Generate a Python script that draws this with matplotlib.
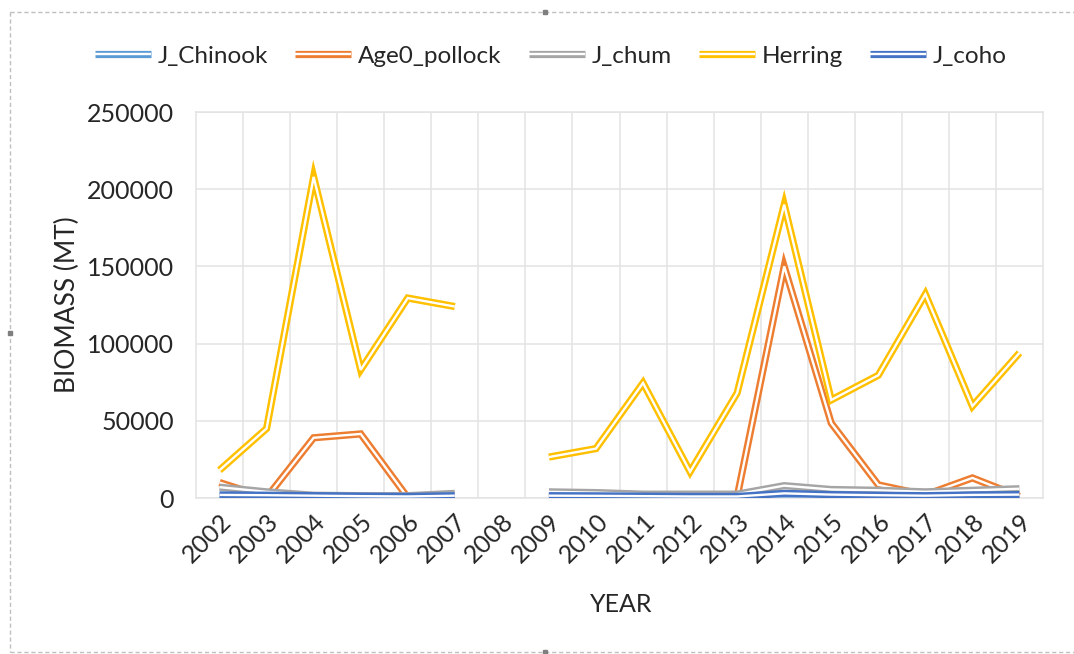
"""Juvenile salmon, age-0 pollock and herring biomass by survey year."""

import matplotlib.pyplot as plt
import numpy as np
from matplotlib.lines import Line2D

plt.rcParams["font.family"] = ["Lato", "DejaVu Sans"]

nan = np.nan
years = [str(y) for y in range(2002, 2020)]

# biomass (MT) per year; no survey in 2008
j_chinook = [1000, 800, 600, 500, 500, 600, nan, 700, 600, 500, 400, 400,
             1200, 900, 800, 700, 900, 800]
age0_pollock = [10000, 300, 39000, 41500, 300, 1500, nan, 500, 500, 500, 500, 800,
                150000, 48500, 8500, 2000, 13000, 1000]
j_chum = [7000, 4000, 1800, 1500, 1500, 3000, nan, 4000, 3500, 2500, 2500, 2500,
          8000, 5500, 5000, 4000, 5000, 6000]
herring = [18000, 45000, 208000, 83000, 129500, 124000, nan, 26500, 32000, 74500,
           17000, 68000, 190000, 63500, 79500, 132000, 59500, 94000]
j_coho = [2000, 1800, 1500, 1200, 1000, 1500, nan, 1500, 1400, 1200, 1000, 1000,
          3000, 2200, 1800, 1500, 2000, 2200]

series = [
    ("J_Chinook", j_chinook, "#5B9BD5"),
    ("Age0_pollock", age0_pollock, "#ED7D31"),
    ("J_chum", j_chum, "#A5A5A5"),
    ("Herring", herring, "#FFC000"),
    ("J_coho", j_coho, "#4472C4"),
]

fig = plt.figure(figsize=(10.74, 6.54), dpi=100)
ax = fig.add_axes([196 / 1074, 1 - 498 / 654, 847 / 1074, 386 / 654])

x = np.arange(len(years))
grid_color = "#E3E3E3"
text_color = "#262626"
handles = []
for i, (name, vals, color) in enumerate(series):
    # double ("compound") line: wide coloured stroke with a thin white core
    outer, = ax.plot(x, vals, color=color, lw=5.2, solid_joinstyle="miter",
                     solid_capstyle="butt", zorder=3 + 2 * i)
    inner, = ax.plot(x, vals, color="white", lw=1.7, solid_joinstyle="miter",
                     solid_capstyle="butt", zorder=4 + 2 * i)
    handles.append((outer, inner))

ax.set_xlim(-0.5, len(years) - 0.5)
ax.set_ylim(0, 250000)
ax.set_yticks(np.arange(0, 250001, 50000))
ax.set_xticks(x)
ax.set_xticklabels(years, rotation=45, ha="right", rotation_mode="anchor")
ax.set_xticks(x[:-1] + 0.5, minor=True)
ax.grid(True, axis="y", color=grid_color, lw=1.1)
ax.grid(True, axis="x", which="minor", color=grid_color, lw=1.1)
ax.set_axisbelow(True)
for s in ax.spines.values():
    s.set_color(grid_color)
    s.set_linewidth(1.1)
ax.tick_params(axis="both", which="both", length=0, labelsize=18, colors=text_color)
ax.tick_params(axis="y", pad=16)
ax.tick_params(axis="x", pad=8)

fig.text(67 / 1074, 1 - 305 / 654, "BIOMASS (MT)", rotation=90, ha="center",
         va="center", fontsize=19, color=text_color)
fig.text(621 / 1074, 1 - 604 / 654, "YEAR", ha="center", va="center",
         fontsize=18, color=text_color)

fig.legend(handles, [s[0] for s in series], loc="center",
           bbox_to_anchor=(551 / 1074, 1 - 56 / 654), ncol=5, frameon=False,
           fontsize=17.5, handlelength=2.3, columnspacing=1.1, handletextpad=0.3,
           labelcolor=text_color)

# dashed selection frame around the chart object
frame_kw = dict(color="#BFBFBF", lw=1, ls=(0, (3, 2)), transform=fig.transFigure)
fig.add_artist(Line2D([10 / 1074, 1], [1 - 12 / 654] * 2, **frame_kw))
fig.add_artist(Line2D([10 / 1074] * 2, [1 - 12 / 654, 1 - 652 / 654], **frame_kw))
fig.add_artist(Line2D([10 / 1074, 1], [1 - 652 / 654] * 2, **frame_kw))
for hx, hy in [(545, 12), (10, 333), (545, 652)]:
    fig.add_artist(Line2D([hx / 1074], [1 - hy / 654], marker="s", ms=3,
                          color="#7F7F7F", transform=fig.transFigure))

fig.savefig("out.png", dpi=100, facecolor="white")
